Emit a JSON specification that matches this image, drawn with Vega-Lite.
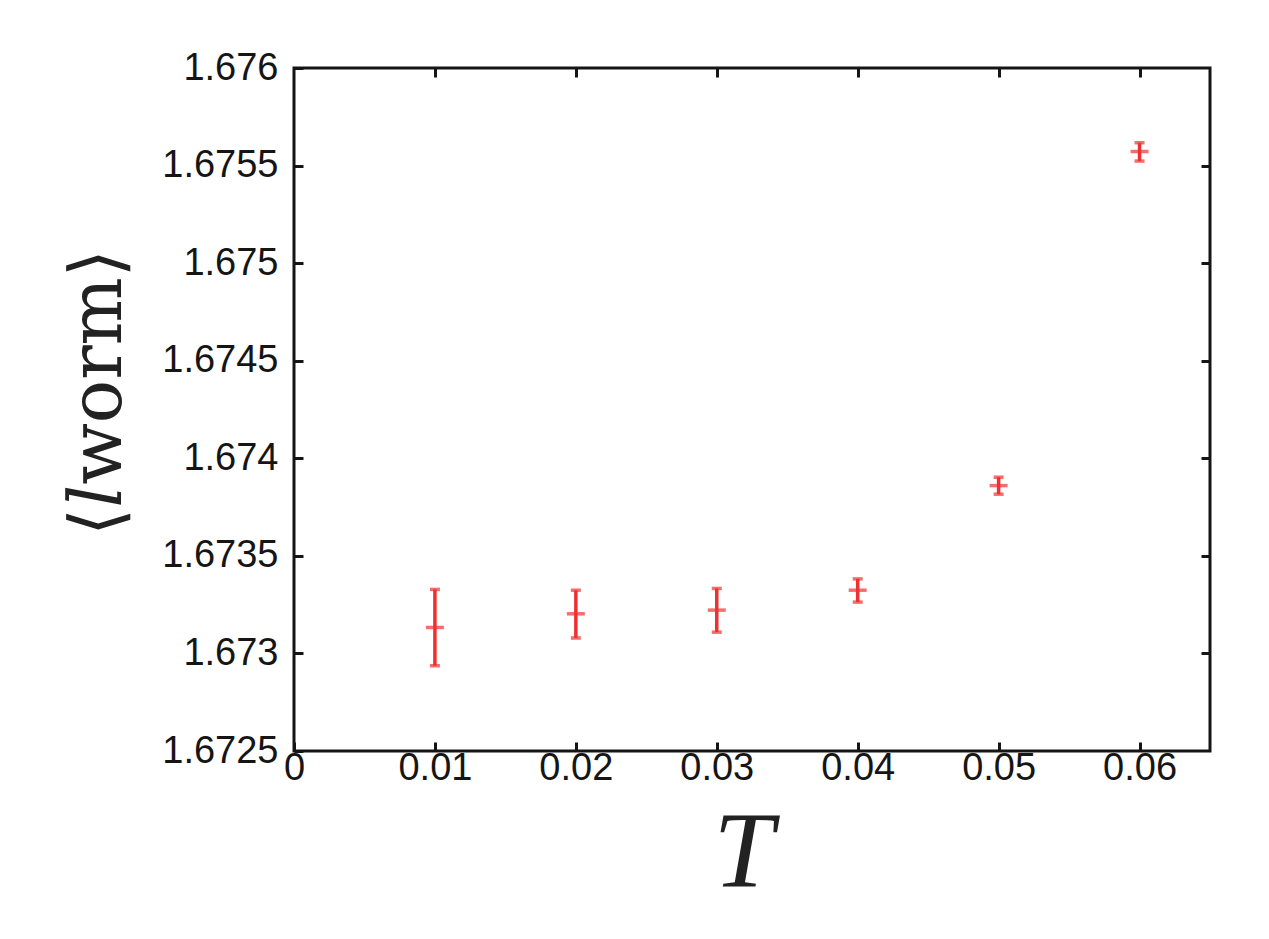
{
  "$schema": "https://vega.github.io/schema/vega-lite/v6.json",
  "autosize": "none",
  "width": 916,
  "height": 683,
  "padding": {"left": 294, "top": 68, "right": 59, "bottom": 188},
  "background": "white",
  "config": {
    "view": {"stroke": "#151515", "strokeWidth": 3},
    "axis": {
      "grid": false,
      "domain": false,
      "tickColor": "#151515",
      "tickWidth": 3,
      "tickSize": -9,
      "labelFont": "Liberation Sans",
      "labelFontSize": 38,
      "labelColor": "#151515",
      "titleColor": "#222222"
    }
  },
  "data": {
    "values": [
      {"T": 0.01, "v": 1.673133, "lo": 1.672937, "hi": 1.673328},
      {"T": 0.02, "v": 1.673203, "lo": 1.673079, "hi": 1.673324},
      {"T": 0.03, "v": 1.673222, "lo": 1.673109, "hi": 1.673333},
      {"T": 0.04, "v": 1.673324, "lo": 1.673263, "hi": 1.673382},
      {"T": 0.05, "v": 1.67386, "lo": 1.673816, "hi": 1.673903},
      {"T": 0.06, "v": 1.675572, "lo": 1.675523, "hi": 1.675617}
    ]
  },
  "layer": [
    {
      "mark": {"type": "rule", "color": "#f03030", "strokeWidth": 3.5},
      "encoding": {
        "x": {
          "field": "T", "type": "quantitative",
          "scale": {"domain": [0, 0.065], "nice": false, "zero": false},
          "axis": {
            "orient": "bottom",
            "values": [0, 0.01, 0.02, 0.03, 0.04, 0.05, 0.06],
            "format": "~g",
            "labelPadding": 7,
            "labelFlush": false,
            "title": "T",
            "titleFont": "Liberation Serif",
            "titleFontStyle": "italic",
            "titleFontWeight": "normal",
            "titleFontSize": 108,
            "titleAlign": "center",
            "titleBaseline": "alphabetic",
            "titleX": 449,
            "titleY": 134
          }
        },
        "y": {
          "field": "lo", "type": "quantitative",
          "scale": {"domain": [1.6725, 1.676], "nice": false, "zero": false},
          "axis": {
            "orient": "left",
            "values": [1.6725, 1.673, 1.6735, 1.674, 1.6745, 1.675, 1.6755, 1.676],
            "format": "~g",
            "labelPadding": 25,
            "labelFlush": false,
            "title": "⟨𝑙worm⟩",
            "titleFont": "DejaVu Serif",
            "titleFontWeight": "normal",
            "titleFontSize": 72,
            "titleAngle": -90,
            "titleAlign": "center",
            "titleBaseline": "middle",
            "titleX": -196,
            "titleY": 324
          }
        },
        "y2": {"field": "hi"}
      }
    },
    {
      "mark": {"type": "tick", "orient": "horizontal", "color": "#f03030", "size": 10, "thickness": 3.5},
      "encoding": {
        "x": {"field": "T", "type": "quantitative", "axis": {"orient": "top", "values": [0.01, 0.02, 0.03, 0.04, 0.05, 0.06], "labels": false, "title": null}},
        "y": {"field": "lo", "type": "quantitative", "axis": {"orient": "right", "values": [1.673, 1.6735, 1.674, 1.6745, 1.675, 1.6755], "labels": false, "title": null}}
      }
    },
    {
      "mark": {"type": "tick", "orient": "horizontal", "color": "#f03030", "size": 10, "thickness": 3.5},
      "encoding": {
        "x": {"field": "T", "type": "quantitative", "axis": null},
        "y": {"field": "hi", "type": "quantitative", "axis": null}
      }
    },
    {
      "mark": {"type": "tick", "orient": "horizontal", "color": "#f03030", "size": 18, "thickness": 3.5},
      "encoding": {
        "x": {"field": "T", "type": "quantitative", "axis": null},
        "y": {"field": "v", "type": "quantitative", "axis": null}
      }
    }
  ],
  "resolve": {"axis": {"x": "independent", "y": "independent"}}
}
